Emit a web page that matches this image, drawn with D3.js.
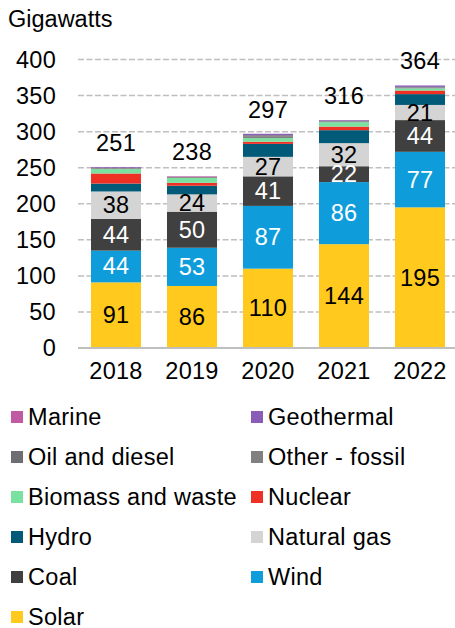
<!DOCTYPE html>
<html><head><meta charset="utf-8">
<script src="https://cdn.jsdelivr.net/npm/d3@7"></script>
<style>body{margin:0;background:#fff}svg{display:block;font-family:"Liberation Sans",Arial,sans-serif}</style>
</head><body><svg id="c" width="455" height="628"></svg>
<script>
const years = ["2018","2019","2020","2021","2022"];
const series = ["Solar","Wind","Coal","Natural gas","Hydro","Nuclear","Biomass and waste","Other - fossil","Oil and diesel","Geothermal","Marine"];
const colors = ["#FFC91E","#0E9DDA","#404040","#D4D4D4","#005A78","#EE3124","#79E2A1","#808080","#6D6E71","#8A5CB8","#C05AA3"];
const solar = [91,86,110,144,195];
const wind = [44,53,87,86,77];
const coal = [44,50,41,22,44];
const gas = [38,24,27,32,21];
const hydro = [11,12,18,18,15];
const nuclear = [14,4,3,5,5];
const biomass = [6,7,5,6,3];
const otherFossil = [1,0,2,1,1];
const oil = [1,1,2,1,1];
const geothermal = [1,0,2,1,2];
const marine = [0,1,0,0,0];
const totals = [251,238,297,316,364];
const yTicks = [0,50,100,150,200,250,300,350,400];
const legendOrder = ["Marine","Geothermal","Oil and diesel","Other - fossil","Biomass and waste","Nuclear","Hydro","Natural gas","Coal","Wind","Solar"];
const labelled = {"Solar":"#000","Wind":"#fff","Coal":"#fff","Natural gas":"#000"};

const values = [solar,wind,coal,gas,hydro,nuclear,biomass,otherFossil,oil,geothermal,marine];
const rows = years.map((y,i)=>{const r={year:y};series.forEach((s,k)=>r[s]=values[k][i]);return r;});
const stack = d3.stack().keys(series)(rows);
const color = d3.scaleOrdinal(series, colors);

const svg = d3.select("#c");
const x = d3.scaleBand().domain(years).range([78,458]).paddingInner(0.342).paddingOuter(0.171);
const y = d3.scaleLinear().domain([0,400]).range([348,59.5]);
const FS = 23.5, LS = "0.3px";

// gridlines
svg.append("g").selectAll("line").data(yTicks.filter(t=>t>0)).join("line")
  .attr("x1",78).attr("x2",455).attr("y1",d=>y(d)).attr("y2",d=>y(d))
  .attr("stroke","#BFBFBF").attr("stroke-width",1.5).attr("stroke-dasharray","6,2.5");

// y axis labels
const ya = svg.append("g").attr("transform","translate(56,0)").call(d3.axisLeft(y).tickValues(yTicks).tickSize(0).tickPadding(0));
ya.select(".domain").remove();
ya.selectAll("text").attr("font-size",FS).attr("letter-spacing",LS).attr("font-family","Liberation Sans, Arial, sans-serif").attr("fill","#000");

// bars
svg.append("g").selectAll("g").data(stack).join("g").attr("fill",d=>color(d.key))
  .selectAll("rect").data(d=>d).join("rect")
  .attr("x",d=>x(d.data.year)).attr("width",x.bandwidth())
  .attr("y",d=>y(d[1])).attr("height",d=>y(d[0])-y(d[1]));

// baseline
svg.append("line").attr("x1",78).attr("x2",455).attr("y1",y(0)).attr("y2",y(0)).attr("stroke","#BFBFBF").attr("stroke-width",2);

// segment labels
stack.filter(s=>labelled[s.key]).forEach(s=>{
  svg.append("g").selectAll("text").data(s).join("text")
    .attr("x",d=>x(d.data.year)+x.bandwidth()/2).attr("y",d=>(y(d[0])+y(d[1]))/2)
    .attr("text-anchor","middle").attr("dominant-baseline","central")
    .attr("font-size",FS).attr("letter-spacing",LS).attr("fill",labelled[s.key]).text(d=>d[1]-d[0]);
});

// totals
svg.append("g").selectAll("text").data(years).join("text")
  .attr("x",d=>x(d)+x.bandwidth()/2).attr("y",(d,i)=>y(totals[i])-24)
  .attr("text-anchor","middle").attr("dominant-baseline","central")
  .attr("font-size",FS).attr("letter-spacing",LS).attr("fill","#000").text((d,i)=>totals[i]);

// x axis labels
const xa = svg.append("g").attr("transform","translate(0,"+(y(0))+")").call(d3.axisBottom(x).tickSize(0).tickPadding(14));
xa.select(".domain").remove();
xa.selectAll("text").attr("font-size",FS).attr("letter-spacing",LS).attr("font-family","Liberation Sans, Arial, sans-serif").attr("fill","#000");

// title
svg.append("text").attr("x",8).attr("y",19).attr("dominant-baseline","central").attr("font-size",FS).text("Gigawatts");

// legend
const lg = svg.append("g").selectAll("g").data(legendOrder).join("g")
  .attr("transform",(d,i)=>`translate(${i%2===0?11:251},${417+Math.floor(i/2)*40})`);
lg.append("rect").attr("x",0).attr("y",-6).attr("width",12).attr("height",12).attr("fill",d=>color(d));
lg.append("text").attr("x",17).attr("y",0).attr("dominant-baseline","central").attr("font-size",FS).attr("letter-spacing",LS).text(d=>d);
</script></body></html>
